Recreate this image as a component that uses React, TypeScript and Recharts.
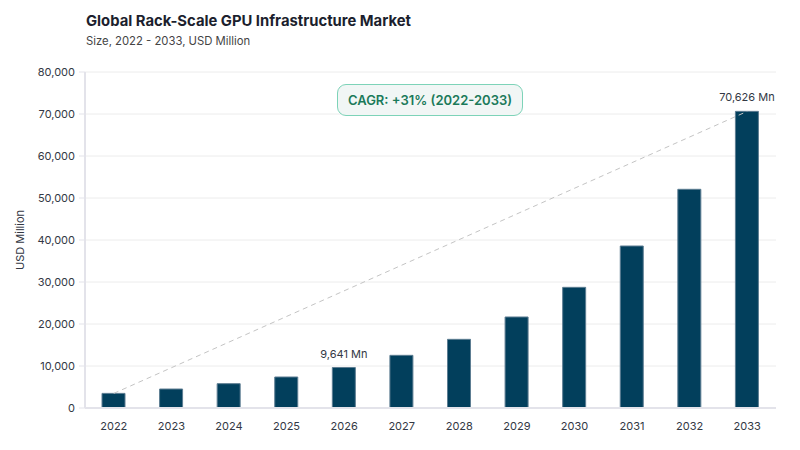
import React from 'react';
import {
  BarChart,
  Bar,
  XAxis,
  YAxis,
  CartesianGrid,
  ReferenceLine,
  LabelList,
} from 'recharts';

const YEARS = ['2022', '2023', '2024', '2025', '2026', '2027', '2028', '2029', '2030', '2031', '2032', '2033'];
const MARKET_SIZE = [3480, 4520, 5790, 7380, 9641, 12540, 16350, 21670, 28730, 38570, 52070, 70626];
const ANNOTATED_YEARS = ['2026', '2033'];
const Y_TICKS = [0, 10000, 20000, 30000, 40000, 50000, 60000, 70000, 80000];

const FONT = 'Inter, "Noto Sans", sans-serif';
const BAR_COLOR = '#023F5C';

const chartData = YEARS.map((year, i) => ({
  year,
  value: MARKET_SIZE[i],
  note: ANNOTATED_YEARS.includes(year) ? `${MARKET_SIZE[i].toLocaleString('en-US')} Mn` : '',
}));

// only the annotated bars get a value label
const renderNote = (props: any) => {
  const { x, y, width, value } = props;
  if (!value) return null;
  return (
    <text x={x + width / 2} y={y - 10} textAnchor="middle" fontSize={11} fill="#333844" fontFamily={FONT}>
      {value}
    </text>
  );
};

export default function App() {
  const first = chartData[0];
  const last = chartData[chartData.length - 1];

  return (
    <div style={{ position: 'absolute', left: 0, top: 0, width: 800, height: 450, background: '#fff', fontFamily: FONT }}>
      <div style={{ position: 'absolute', left: 86, top: 12, fontSize: 14.8, fontWeight: 700, color: '#1c1f2e' }}>
        Global Rack-Scale GPU Infrastructure Market
      </div>
      <div style={{ position: 'absolute', left: 86, top: 34, fontSize: 11.3, color: '#444' }}>
        Size, 2022 - 2033, USD Million
      </div>

      <BarChart
        width={800}
        height={450}
        data={chartData}
        margin={{ top: 72, right: 24, left: 0, bottom: 12 }}
      >
        <CartesianGrid vertical={false} stroke="#ececec" />
        <XAxis
          dataKey="year"
          height={30}
          tickLine={false}
          axisLine={{ stroke: '#e3e3ea', strokeWidth: 2 }}
          tick={{ fill: '#333844', fontSize: 11, fontFamily: FONT }}
          tickMargin={8}
        />
        <YAxis
          width={85}
          domain={[0, 80000]}
          ticks={Y_TICKS}
          tickFormatter={(v) => v.toLocaleString('en-US')}
          axisLine={{ stroke: '#e3e3ea', strokeWidth: 2 }}
          tickLine={{ stroke: '#e3e3ea' }}
          tickMargin={4}
          tick={{ fill: '#333844', fontSize: 11, fontFamily: FONT }}
          label={{
            value: 'USD Million',
            angle: -90,
            position: 'insideLeft',
            offset: 20,
            style: { textAnchor: 'middle', fill: '#333844', fontSize: 11, fontFamily: FONT },
          }}
        />
        <ReferenceLine
          segment={[
            { x: first.year, y: first.value },
            { x: last.year, y: last.value },
          ]}
          stroke="#c4c4c4"
          strokeDasharray="5 4"
          ifOverflow="visible"
        />
        <Bar
          dataKey="value"
          fill={BAR_COLOR}
          stroke="#5d7d92"
          strokeWidth={1}
          barSize={23}
          isAnimationActive={false}
        >
          <LabelList dataKey="note" content={renderNote} />
        </Bar>
      </BarChart>

      <div
        style={{
          position: 'absolute',
          left: 337,
          top: 84,
          width: 186,
          height: 32,
          boxSizing: 'border-box',
          border: '1.5px solid #7dd3b8',
          borderRadius: 9,
          background: '#f1f6f5',
          color: '#1b7a5a',
          fontSize: 13,
          fontWeight: 600,
          display: 'flex',
          alignItems: 'center',
          justifyContent: 'center',
        }}
      >
        CAGR: +31% (2022-2033)
      </div>
    </div>
  );
}
